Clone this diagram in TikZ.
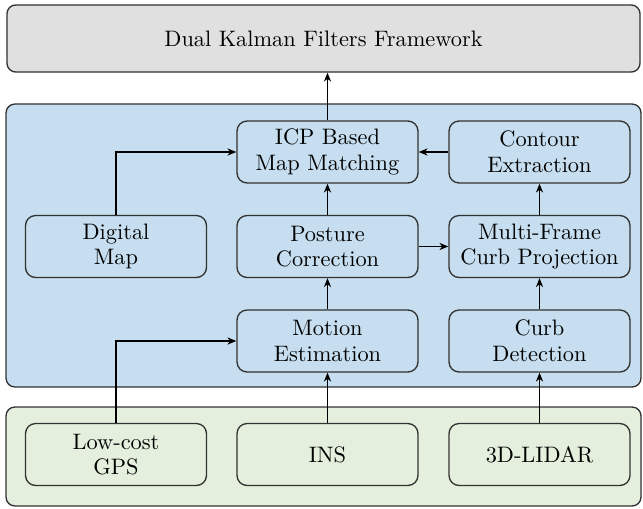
\documentclass[tikz,border=0pt]{standalone}
\usetikzlibrary{arrows.meta}
\definecolor{topgray}{RGB}{224,224,224}
\definecolor{midblue}{RGB}{198,222,239}
\definecolor{lowgreen}{RGB}{228,240,221}
\definecolor{edge}{RGB}{50,50,50}
\begin{document}
\begin{tikzpicture}[x=0.447pt,y=-0.447pt,
  panel/.style={draw=edge,line width=0.6pt,rounded corners=4pt},
  stage/.style={draw=edge,line width=0.6pt,rounded corners=4.5pt,minimum width=80.9pt,minimum height=27.7pt,inner sep=0pt,align=center,font=\fontsize{10}{11.5}\selectfont},
  sensor/.style={stage},
  conn/.style={-{Stealth[length=4pt,width=3.2pt]},line width=0.5pt,draw=black}]
\useasboundingbox (0,0) rectangle (643,508);
% panels
\node[panel,fill=topgray,minimum width=283pt,minimum height=30pt,inner sep=0pt,font=\fontsize{10}{12}\selectfont] (dkf) at (323.5,38.5) {Dual Kalman Filters Framework};
\path[panel,fill=midblue] (6,104) rectangle (641,387);
\path[panel,fill=lowgreen] (6,407) rectangle (641,506);
% stages
\node[stage] (icp) at (327.5,152) {ICP Based\\Map Matching};
\node[stage] (cont) at (539.5,152) {Contour\\Extraction};
\node[stage] (dmap) at (116,246.5) {Digital\\Map};
\node[stage] (post) at (327.5,246.5) {Posture\\Correction};
\node[stage] (mfcp) at (539.5,246.5) {Multi-Frame\\Curb Projection};
\node[stage] (mot) at (327.5,341) {Motion\\Estimation};
\node[stage] (curb) at (539.5,341) {Curb\\Detection};
% sensors
\node[sensor] (gps) at (116,454.5) {Low-cost\\GPS};
\node[sensor] (ins) at (327.5,454.5) {INS};
\node[sensor] (lidar) at (539.5,454.5) {3D-LIDAR};
% connectors
\draw[conn] (icp.north) -- (icp.north |- dkf.south);
\draw[conn] (dmap.north) |- (icp.west);
\draw[conn] (cont.west) -- (icp.east);
\draw[conn] (post.north) -- (icp.south);
\draw[conn] (post.east) -- (mfcp.west);
\draw[conn] (mfcp.north) -- (cont.south);
\draw[conn] (mot.north) -- (post.south);
\draw[conn] (curb.north) -- (mfcp.south);
\draw[conn] (gps.north) |- (mot.west);
\draw[conn] (ins.north) -- (mot.south);
\draw[conn] (lidar.north) -- (curb.south);
\end{tikzpicture}
\end{document}
